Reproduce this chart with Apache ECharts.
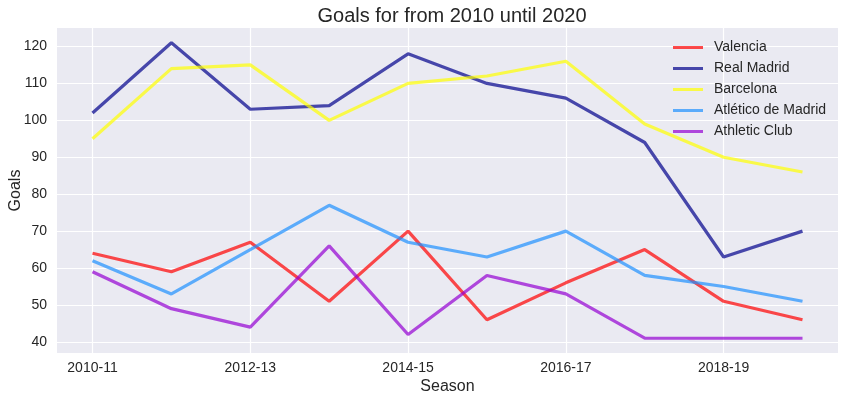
<!DOCTYPE html>
<html>
<head>
<meta charset="utf-8">
<script src="https://cdn.jsdelivr.net/npm/echarts@6/dist/echarts.min.js"></script>
<style>
html,body{margin:0;padding:0;background:#fff;}
#chart{width:845px;height:401px;}
</style>
</head>
<body>
<div id="chart"></div>
<script>
const seasons = ['2010-11','2011-12','2012-13','2013-14','2014-15','2015-16','2016-17','2017-18','2018-19','2019-20'];
const valencia = [64, 59, 67, 51, 70, 46, 56, 65, 51, 46];
const realMadrid = [102, 121, 103, 104, 118, 110, 106, 94, 63, 70];
const barcelona = [95, 114, 115, 100, 110, 112, 116, 99, 90, 86];
const atletico = [62, 53, 65, 77, 67, 63, 70, 58, 55, 51];
const athletic = [59, 49, 44, 66, 42, 58, 53, 41, 41, 41];
const xTicks = [0, 2, 4, 6, 8];
const yTicks = [40, 50, 60, 70, 80, 90, 100, 110, 120];

const seriesDefs = [
  {name: 'Valencia', values: valencia, color: 'rgba(255,0,0,0.7)'},
  {name: 'Real Madrid', values: realMadrid, color: 'rgba(0,0,139,0.7)'},
  {name: 'Barcelona', values: barcelona, color: 'rgba(255,255,0,0.7)'},
  {name: 'Atlético de Madrid', values: atletico, color: 'rgba(30,144,255,0.7)'},
  {name: 'Athletic Club', values: athletic, color: 'rgba(148,0,211,0.7)'}
];

const textColor = '#262626';
const font = 'Liberation Sans, Arial, sans-serif';

const chart = echarts.init(document.getElementById('chart'), null, {renderer: 'canvas'});
chart.setOption({
  animation: false,
  backgroundColor: '#ffffff',
  textStyle: {fontFamily: font},
  title: {
    text: 'Goals for from 2010 until 2020',
    left: 447, textAlign: 'center', top: 1,
    textStyle: {fontSize: 20, fontWeight: 'normal', color: textColor, fontFamily: font}
  },
  legend: {
    orient: 'vertical',
    left: 673, top: 37,
    padding: 0,
    icon: 'rect',
    itemWidth: 30, itemHeight: 3,
    itemGap: 0,
    textStyle: {fontSize: 14, color: textColor, lineHeight: 21, fontFamily: font, padding: [0, 0, 0, 6]},
    data: seriesDefs.map(s => s.name)
  },
  grid: {left: 57, right: 7, top: 28, bottom: 48, backgroundColor: '#eaeaf2', show: true, borderWidth: 0,
    outerBoundsMode: 'none', containLabel: false},
  xAxis: {
    type: 'value',
    min: -0.45, max: 9.45,
    name: 'Season', nameLocation: 'middle', nameGap: 26, nameMoveOverlap: false,
    nameTextStyle: {fontSize: 16, color: textColor, fontFamily: font},
    axisLine: {show: false},
    axisTick: {show: false, customValues: xTicks},
    axisLabel: {customValues: xTicks, fontSize: 14, color: textColor, margin: 8, fontFamily: font,
      formatter: v => seasons[Math.round(v)]},
    splitLine: {show: true, lineStyle: {color: '#ffffff', width: 1.2}}
  },
  yAxis: {
    type: 'value',
    min: 37, max: 125,
    name: 'Goals', nameLocation: 'middle', nameGap: 33, nameMoveOverlap: false,
    nameTextStyle: {fontSize: 16, color: textColor, fontFamily: font},
    axisLine: {show: false},
    axisTick: {show: false, customValues: yTicks},
    axisLabel: {customValues: yTicks, fontSize: 14, color: textColor, margin: 10, fontFamily: font},
    splitLine: {show: true, lineStyle: {color: '#ffffff', width: 1.2}}
  },
  series: seriesDefs.map(s => ({
    name: s.name,
    type: 'line',
    symbol: 'none',
    color: s.color,
    lineStyle: {width: 3.2, color: s.color},
    data: s.values.map((v, i) => [i, v])
  }))
});
</script>
</body>
</html>
